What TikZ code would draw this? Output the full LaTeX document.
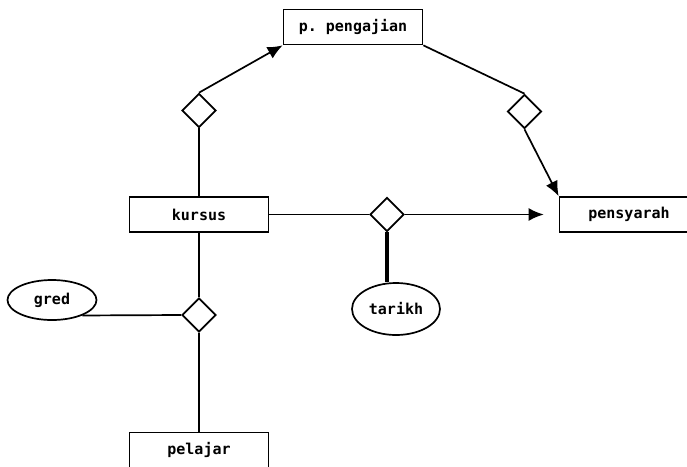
\documentclass[tikz,border=0pt]{standalone}
\usepackage{fontspec}
\setmainfont{DejaVu Sans}
\setmonofont{DejaVu Sans Mono}
\usetikzlibrary{shapes.geometric,arrows.meta,positioning}

\begin{document}
\begin{tikzpicture}[
        x=1pt, y=-1pt, % satu unit = satu piksel
        line width=1.7pt,
        entity/.style = {draw, rectangle, minimum width=139pt, minimum height=35pt, inner sep=0pt, font=\ttfamily\bfseries\fontsize{15}{17}\selectfont}, % Kotak entiti
        rel/.style = {draw, diamond, minimum size=34pt, inner sep=0pt}, % Hubungan
        attr/.style = {draw, ellipse, inner sep=0pt, font=\ttfamily\bfseries\fontsize{15}{17}\selectfont}, % Atribut
        arr/.style = {-{Latex[length=15pt, width=13pt]}},
    ]
    \useasboundingbox (0,0) rectangle (687,466);

    \node[entity] (pengajian) at (353,27) {p. pengajian};
    \node[entity] (kursus) at (199,214.5) {kursus};
    \node[entity] (pensyarah) at (629,214.5) {pensyarah};
    \node[entity] (pelajar) at (199,450) {pelajar};

    \node[rel] (dkiri) at (199,110.5) {};
    \node[rel] (dkanan) at (524.5,111.5) {};
    \node[rel] (dtengah) at (387,214.5) {};
    \node[rel] (dbawah) at (199,315) {};

    \node[attr, minimum width=88pt, minimum height=52pt] (tarikh) at (396,309) {tarikh};
    \node[attr, minimum width=89pt, minimum height=40pt] (gred) at (52,300) {gred};

    \draw (kursus.north) -- (dkiri.south);
    \draw[arr] (dkiri.north) -- (pengajian.south west);
    \draw (pengajian.south east) -- (dkanan.north);
    \draw[arr] (dkanan.south) -- (pensyarah.north west);

    \draw (kursus.east) -- (dtengah.west);
    \draw[arr, shorten >=15pt] (dtengah.east) -- (dtengah.east -| pensyarah.west);
    \draw[line width=4pt] (dtengah.south) -- (dtengah.south |- tarikh.north);

    \draw (kursus.south) -- (dbawah.north);
    \draw (gred.-27) -- (dbawah.west);
    \draw (dbawah.south) -- (pelajar.north);
\end{tikzpicture}
\end{document}
